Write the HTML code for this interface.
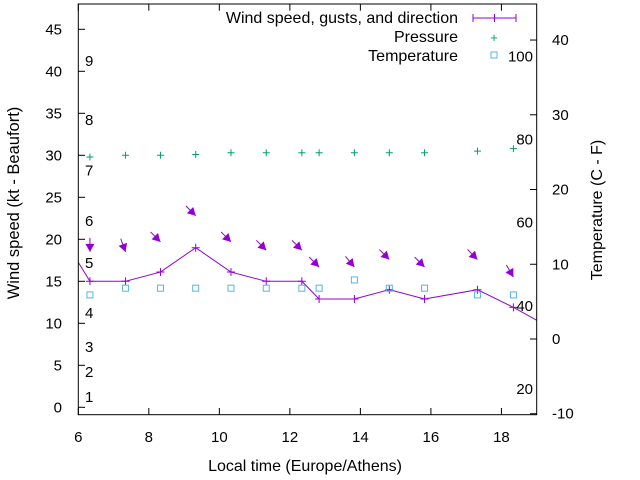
<!DOCTYPE html>
<html><head><meta charset="utf-8"><style>
html,body{margin:0;padding:0;background:#fff;}
svg{display:block;font-family:"Liberation Sans",sans-serif;}
</style></head><body>
<svg id="chart" width="640" height="480" viewBox="0 0 640 480" xmlns="http://www.w3.org/2000/svg">
<rect x="0" y="0" width="640" height="480" fill="#fff"/>
<g id="marks"></g>
<rect x="78.3" y="4" width="458.4" height="410.7" fill="none" stroke="#000" stroke-width="1"/>
<g id="axes" font-size="16" fill="#000"></g>
<text x="305" y="471" font-size="16" text-anchor="middle">Local time (Europe/Athens)</text>
<text transform="translate(19,203) rotate(-90)" font-size="16.5" text-anchor="middle">Wind speed (kt - Beaufort)</text>
<text transform="translate(602,210) rotate(-90)" font-size="16" text-anchor="middle">Temperature (C - F)</text>
<g font-size="16">
<text x="458" y="23" text-anchor="end">Wind speed, gusts, and direction</text>
<line x1="473" y1="18" x2="516" y2="18" stroke="#9400d3"/>
<line x1="473" y1="14" x2="473" y2="22" stroke="#9400d3"/><line x1="516" y1="14" x2="516" y2="22" stroke="#9400d3"/>
<line x1="494.5" y1="14" x2="494.5" y2="22" stroke="#9400d3"/>
<text x="458" y="42" text-anchor="end">Pressure</text>
<text x="494" y="42" fill="#009e73" text-anchor="middle" font-size="13">+</text>
<text x="458" y="61" text-anchor="end">Temperature</text>
<rect x="491" y="52" width="6" height="6" fill="none" stroke="#56b4e9"/>
</g>
</svg>
<script>
const times=[6.33,7.34,8.33,9.33,10.33,11.33,12.34,12.83,13.83,14.82,15.82,17.32,18.34];
const wind=[15,15,16.1,19,16.1,15,15,12.9,12.9,14,12.9,14,11.9];
const gust=[18.5,18.5,19.7,22.8,19.7,18.7,18.7,16.7,16.7,17.6,16.7,17.6,15.5];
const dirs=[0,340,315,315,315,315,315,315,320,315,315,315,330];
const pressure=[29.8,30,30,30.1,30.3,30.3,30.3,30.3,30.3,30.3,30.3,30.5,30.8];
const temperature=[5.9,6.8,6.8,6.8,6.8,6.8,6.8,6.8,7.9,6.8,6.8,5.9,5.9];
const xTicks=[6,8,10,12,14,16,18];
const yTicks=[0,5,10,15,20,25,30,35,40,45];
const y2Ticks=[-10,0,10,20,30,40];
const beaufort=[[1,1.2],[2,4.2],[3,7.2],[4,11.2],[5,17.2],[6,22.2],[7,28.2],[8,34.2],[9,41.2]];
const fahr=[20,40,60,80,100];
const NS="http://www.w3.org/2000/svg";
const X=t=>78.3+(t-6)*35.26;
const Y=v=>407.3-v*8.4;
const Y2=v=>339-v*7.474;
const marks=document.getElementById('marks'),axes=document.getElementById('axes');
function mk(tag,attrs,parent){const e=document.createElementNS(NS,tag);for(const k in attrs)e.setAttribute(k,attrs[k]);parent.appendChild(e);return e;}
const clip=mk('clipPath',{id:'pc'},marks);mk('rect',{x:78.3,y:4,width:458.4,height:410.7},clip);
const g=mk('g',{'clip-path':'url(#pc)'},marks);
let pts=[X(5.8)+','+Y(18.6)];
times.forEach((t,i)=>pts.push(X(t)+','+Y(wind[i])));
pts.push(X(19.5)+','+Y(9.2));
const wl=mk('polyline',{points:pts.join(' '),fill:'none',stroke:'#9400d3','stroke-width':1},g);


times.forEach((t,i)=>{
  const x=X(t),y=Y(wind[i]);
  const p=mk('path',{d:`M${x-4},${y}H${x+4}M${x},${y-4}V${y+4}`,stroke:'#9400d3'},g);
  
  
  const a=dirs[i]*Math.PI/180,dx=-Math.sin(a),dy=Math.cos(a);
  const hx=X(t),hy=Y(gust[i]),L=14;
  const tx=hx-dx*L,ty=hy-dy*L;
  const px=-dy,py=dx,hl=8,hw=4.5;
  const bx=hx-dx*hl,by=hy-dy*hl;
  const ar=mk('g',{},g);
  
  
  mk('line',{x1:tx,y1:ty,x2:hx,y2:hy,stroke:'#9400d3'},ar);
  mk('polygon',{points:`${hx},${hy} ${bx+px*hw},${by+py*hw} ${bx-px*hw},${by-py*hw}`,fill:'#9400d3'},ar);
  const pp=mk('path',{d:`M${x-3.5},${Y(pressure[i])}h7M${x},${Y(pressure[i])-3.5}v7`,stroke:'#009e73'},g);
  
  
  const tp=mk('rect',{x:x-3,y:Y2(temperature[i])-3,width:6,height:6,fill:'none',stroke:'#56b4e9'},g);
  
  
});
xTicks.forEach(t=>{
  const x=X(t);
  mk('line',{x1:x,y1:414.7,x2:x,y2:408,stroke:'#000'},axes);
  mk('line',{x1:x,y1:4,x2:x,y2:10.7,stroke:'#000'},axes);
  const tx=mk('text',{x:x,y:442,'text-anchor':'middle','font-size':15},axes);tx.textContent=t;
  
  
});
yTicks.forEach(v=>{
  const y=Y(v);
  mk('line',{x1:78.3,y1:y,x2:85,y2:y,stroke:'#000'},axes);
  const tx=mk('text',{x:62,y:y+5,'text-anchor':'end','font-size':15},axes);tx.textContent=v;
  
  
});
y2Ticks.forEach(v=>{
  const y=Y2(v);
  mk('line',{x1:536.7,y1:y,x2:530,y2:y,stroke:'#000'},axes);
  const tx=mk('text',{x:552,y:y+5,'text-anchor':'start','font-size':15},axes);tx.textContent=v;
  
  
});
beaufort.forEach(([n,v])=>{
  const tx=mk('text',{x:85,y:Y(v)+5,'font-size':15},axes);tx.textContent=n;
  
  
});
fahr.forEach(f=>{
  const c=(f-32)*5/9;
  const tx=mk('text',{x:533,y:Y2(c)+5,'text-anchor':'end','font-size':15},axes);tx.textContent=f;
  
  
});
</script>
</body></html>
